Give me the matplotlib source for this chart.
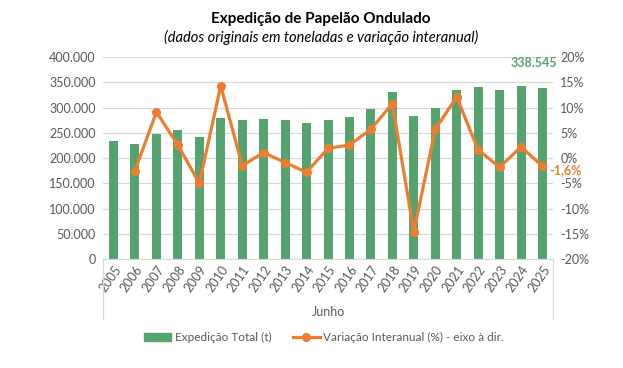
import numpy as np
import matplotlib.pyplot as plt
from matplotlib.ticker import FuncFormatter
from matplotlib.patches import Patch
from matplotlib.lines import Line2D

plt.rcParams['font.family'] = ['Lato', 'DejaVu Sans']

# data
years = ['2005', '2006', '2007', '2008', '2009', '2010', '2011', '2012', '2013', '2014', '2015',
         '2016', '2017', '2018', '2019', '2020', '2021', '2022', '2023', '2024', '2025']
expedicao = [233000, 227500, 248000, 256000, 242500, 279000, 275000, 277500, 276000, 269000, 275000,
             281500, 297500, 331000, 283000, 298500, 335500, 341000, 335500, 343500, 338545]
variacao = [None, -2.5, 9.1, 2.6, -5.0, 14.3, -1.5, 1.1, -0.9, -2.8, 1.9,
            2.6, 5.7, 10.8, -14.6, 5.7, 12.1, 1.6, -1.8, 2.2, -1.6]

green = '#55A46F'
orange = '#ED7D31'
grey = '#595959'

x = np.arange(len(years))
fig = plt.figure(figsize=(6.23, 3.68), dpi=100)
ax = fig.add_axes([0.165, 0.296, 0.723, 0.549])
ax2 = ax.twinx()

ax.bar(x, expedicao, width=0.42, color=green, zorder=2)
ax.set_ylim(0, 400000)
ax.set_yticks(np.arange(0, 400001, 50000))
ax.yaxis.set_major_formatter(FuncFormatter(lambda v, p: f"{int(v):,}".replace(',', '.')))
ax.grid(axis='y', color='#D9D9D9', linewidth=0.9, zorder=0)
ax.set_axisbelow(True)
ax.set_xlim(-0.5, len(years) - 0.5)
ax.set_xticks(x)
ax.set_xticklabels(years, rotation=55, ha='right', rotation_mode='anchor', fontsize=9, color=grey)
ax.tick_params(axis='x', length=0, pad=3)
ax.tick_params(axis='y', length=0, labelsize=9, labelcolor=grey, pad=5)
for s in ['top', 'right', 'left']:
    ax.spines[s].set_visible(False)
ax.spines['bottom'].set_color('#D9D9D9')

vx = [i for i, v in enumerate(variacao) if v is not None]
vy = [v for v in variacao if v is not None]
ax2.plot(vx, vy, color=orange, linewidth=2.3, marker='o', markersize=5.5, zorder=3)
ax2.set_ylim(-20, 20)
ax2.set_yticks(np.arange(-20, 21, 5))
ax2.yaxis.set_major_formatter(FuncFormatter(lambda v, p: f"{int(v)}%"))
ax2.tick_params(axis='y', length=0, labelsize=9, labelcolor=grey, pad=5)
for s in ax2.spines.values():
    s.set_visible(False)

# category box lines under axis
for xa in [0, 1]:
    ax.plot([xa, xa], [0, -0.297], transform=ax.transAxes, color='#D9D9D9', linewidth=0.9, clip_on=False)

ax.text(0.5, -0.26, 'Junho', transform=ax.transAxes, ha='center', va='center', fontsize=9, color=grey)

# data labels
ax.annotate(f"{expedicao[-1]:,}".replace(',', '.'), (x[-1], expedicao[-1]), xytext=(-6, 14),
            textcoords='offset points', ha='center', va='bottom', fontsize=9, fontweight='bold', color=green)
ax2.annotate(f"{variacao[-1]}%".replace('.', ','), (x[-1], variacao[-1]), xytext=(5, -3),
             textcoords='offset points', ha='left', va='center', fontsize=9, fontweight='bold', color=orange)

fig.text(0.515, 0.948, 'Expedição de Papelão Ondulado', ha='center', va='center', fontsize=11, fontweight='bold', color='black')
fig.text(0.515, 0.897, '(dados originais em toneladas e variação interanual)', ha='center', va='center', fontsize=10.5, style='italic', color='black')

handles = [Patch(color=green, label='Expedição Total (t)'),
           Line2D([0], [0], color=orange, linewidth=2.3, marker='o', markersize=5.5, label='Variação Interanual (%) - eixo à dir.')]
fig.legend(handles=handles, loc='center', bbox_to_anchor=(0.52, 0.082), ncol=2, frameon=False,
           fontsize=8.5, labelcolor=grey, handlelength=2.3, handletextpad=0.3, columnspacing=1.8)

fig.savefig('out.png', dpi=100)
